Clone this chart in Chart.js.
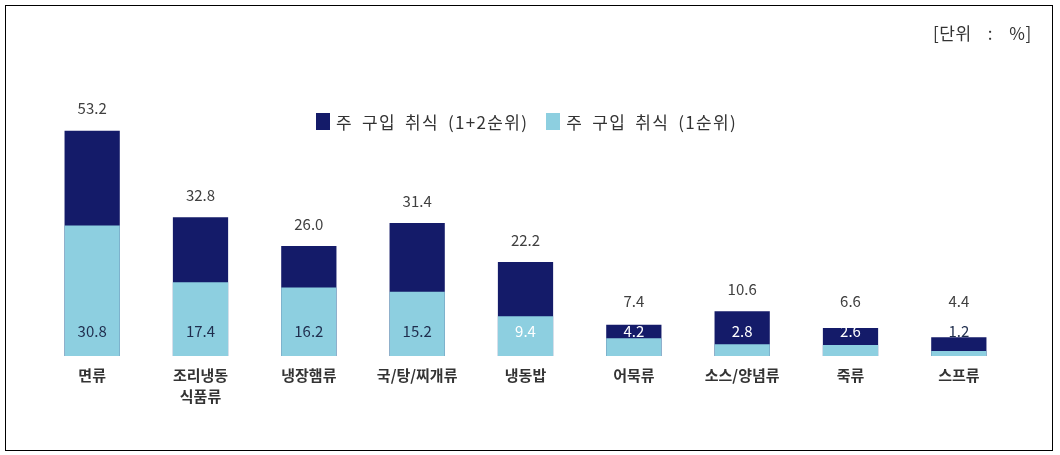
<!DOCTYPE html>
<html>
<head>
<meta charset="utf-8">
<script src="https://cdn.jsdelivr.net/npm/chart.js@4.4.0/dist/chart.umd.min.js"></script>
<style>
    body { margin: 0; background: #fff; font-family: "Noto Sans CJK KR", sans-serif; }
    .frame { position: absolute; left: 5px; top: 5px; width: 1046px; height: 444px; border: 1px solid #000; }
    .wrap { position: absolute; left: 0; top: 0; width: 1060px; height: 455px; }
    .unit { position: absolute; left: 933px; top: 20px; font-size: 17px; color: #333; word-spacing: 12px; letter-spacing: 0.5px; }
    .legend { position: absolute; left: 316px; top: 109px; font-size: 17px; color: #333; display: flex; align-items: center; white-space: nowrap; letter-spacing: 1.3px; word-spacing: 4px; }
    .legend .box { width: 14px; height: 17px; display: inline-block; margin-right: 6px; }
    .legend .item { display: flex; align-items: center; margin-right: 18px; }
</style>
</head>
<body>
<div class="wrap"><canvas id="myChart" width="1060" height="455"></canvas></div>
<div class="frame"></div>
<div class="unit">[단위 : %]</div>
<div class="legend">
    <span class="item"><span class="box" style="background:#141b69"></span>주 구입 취식 (1+2순위)</span>
    <span class="item"><span class="box" style="background:#8dcfe0"></span>주 구입 취식 (1순위)</span>
</div>
<script>
const labels = [
    '면류',
    ['조리냉동', '식품류'],
    '냉장햄류',
    '국/탕/찌개류',
    '냉동밥',
    '어묵류',
    '소스/양념류',
    '죽류',
    '스프류',
];

const first2 = [53.2, 32.8, 26.0, 31.4, 22.2, 7.4, 10.6, 6.6, 4.4];
const first1 = [30.8, 17.4, 16.2, 15.2, 9.4, 4.2, 2.8, 2.6, 1.2];

const yTicks = [0, 60];

// value labels
const valueLabels = {
    id: 'valueLabels',
    afterDatasetsDraw(chart) {
        const ctx = chart.ctx;
        const base = chart.scales.y.getPixelForValue(0);
        const inColors = ['#1f2d4d', '#1f2d4d', '#1f2d4d', '#1f2d4d', '#ffffff', '#ffffff', '#ffffff', '#ffffff', '#1f2d4d'];
        ctx.save();
        ctx.font = '15px "Noto Sans CJK KR", sans-serif';
        ctx.textAlign = 'center';
        ctx.textBaseline = 'middle';

        chart.getDatasetMeta(1).data.forEach((bar, i) => {
            ctx.fillStyle = '#404040';
            const y = Math.min(bar.y - 22, base - 55);
            ctx.fillText(first2[i].toFixed(1), bar.x, y);
        });
        chart.getDatasetMeta(0).data.forEach((bar, i) => {
            ctx.fillStyle = inColors[i];
            ctx.fillText(first1[i].toFixed(1), bar.x, base - 25);
        });
        ctx.restore();
    }
};

const data = {
    labels: labels,
    datasets: [{
        label: '주 구입 취식 (1순위)',
        backgroundColor: '#8dcfe0',
        data: first1,
        order: 0,
        grouped: false,
    },
    {
        label: '주 구입 취식 (1+2순위)',
        backgroundColor: '#141b69',
        data: first2,
        order: 1,
        grouped: false,
    }
    ]
};

const config = {
    type: 'bar',
    data: data,
    options: {
        responsive: false,
        animation: false,
        barPercentage: 0.51,
        categoryPercentage: 1,
        layout: {
            padding: { left: 38, right: 47, top: 102, bottom: 47 }
        },
        scales: {
            x: {
                grid: { display: false },
                border: { display: false },
                ticks: {
                    color: '#333',
                    font: { family: '"Noto Sans CJK KR", sans-serif', size: 15, weight: 'bold', lineHeight: 1.4 },
                    padding: 1,
                    maxRotation: 0,
                    autoSkip: false
                }
            },
            y: {
                display: false,
                min: yTicks[0],
                max: yTicks[1]
            }
        },
        plugins: {
            legend: { display: false },
            tooltip: { enabled: false }
        }
    },
    plugins: [valueLabels]
};

const myChart = new Chart(
    document.getElementById('myChart'),
    config
);
</script>
</body>
</html>
